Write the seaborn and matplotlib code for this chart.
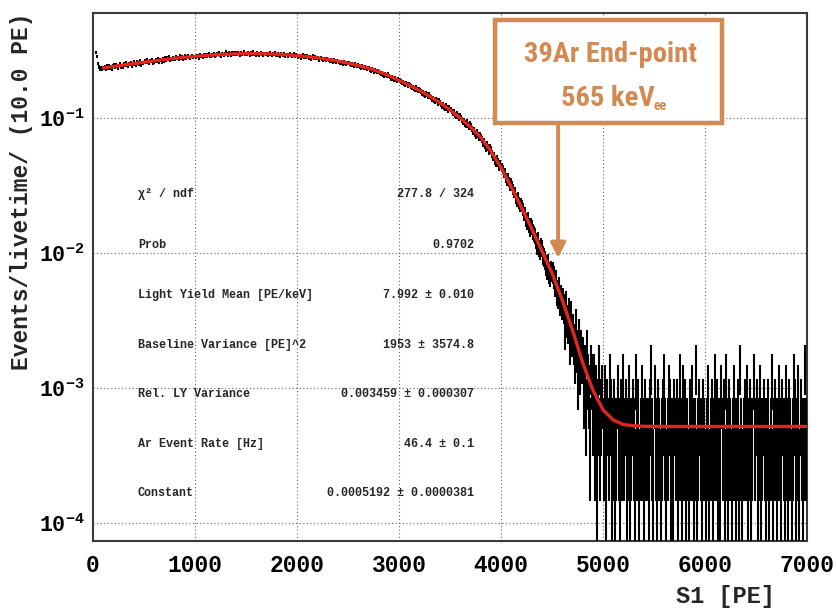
import numpy as np
import pandas as pd
import matplotlib
matplotlib.use("Agg")
import matplotlib.pyplot as plt
import seaborn as sns
from matplotlib import font_manager as fm
from matplotlib.patches import Rectangle
from matplotlib.ticker import FixedLocator, LogLocator, MultipleLocator, NullFormatter

# ---------------------------------------------------------------- data
bin_width = 10.0          # PE per bin
rate_per_count = 2.48e-4  # Hz per histogram entry (1 / livetime)

# entries per 10 PE bin, one list per 1000 PE
counts_0000 = [
    0, 0, 1240, 1150, 1020, 960, 930, 945, 925, 950,
    942, 968, 931, 975, 953, 990, 947, 962, 925, 981,
    995, 962, 1003, 971, 948, 989, 1012, 966, 984, 957,
    1021, 987, 1030, 996, 974, 1015, 1008, 1042, 983, 1011,
    1047, 1013, 1002, 1056, 1031, 1019, 1064, 998, 1036, 1025,
    1070, 1038, 1081, 1045, 1029, 1066, 1057, 1090, 1023, 1049,
    1061, 1095, 1072, 1108, 1054, 1086, 1079, 1043, 1100, 1068,
    1119, 1085, 1127, 1096, 1142, 1078, 1110, 1093, 1131, 1104,
    1106, 1150, 1118, 1135, 1097, 1162, 1121, 1140, 1109, 1128,
    1160, 1125, 1152, 1178, 1133, 1117, 1149, 1170, 1131, 1156,
]
counts_1000 = [
    1139, 1174, 1162, 1120, 1185, 1151, 1168, 1143, 1190, 1159,
    1191, 1158, 1180, 1204, 1166, 1149, 1187, 1175, 1213, 1162,
    1172, 1206, 1193, 1225, 1180, 1161, 1210, 1197, 1184, 1219,
    1251, 1214, 1186, 1233, 1207, 1179, 1222, 1195, 1240, 1203,
    1221, 1190, 1236, 1209, 1182, 1228, 1199, 1215, 1247, 1193,
    1189, 1230, 1211, 1177, 1224, 1203, 1242, 1196, 1218, 1185,
    1226, 1195, 1172, 1213, 1238, 1201, 1183, 1219, 1207, 1190,
    1214, 1178, 1205, 1229, 1190, 1167, 1211, 1196, 1232, 1184,
    1170, 1202, 1185, 1163, 1217, 1194, 1176, 1208, 1159, 1190,
    1195, 1160, 1188, 1214, 1171, 1149, 1182, 1203, 1166, 1179,
]
counts_2000 = [
    1138, 1170, 1149, 1127, 1163, 1185, 1142, 1158, 1131, 1166,
    1150, 1119, 1141, 1106, 1137, 1162, 1124, 1145, 1112, 1130,
    1124, 1090, 1113, 1131, 1098, 1079, 1116, 1102, 1087, 1109,
    1095, 1082, 1060, 1089, 1071, 1049, 1083, 1068, 1052, 1076,
    1061, 1043, 1028, 1055, 1037, 1016, 1049, 1031, 1010, 1038,
    1026, 1009, 992, 1018, 997, 980, 1011, 989, 972, 998,
    984, 966, 951, 977, 955, 938, 969, 946, 930, 957,
    941, 922, 903, 930, 908, 889, 918, 897, 880, 906,
    885, 866, 851, 872, 846, 833, 859, 840, 821, 848,
    826, 807, 793, 811, 783, 771, 797, 774, 760, 782,
]
counts_3000 = [
    764, 751, 733, 748, 727, 714, 737, 718, 702, 722,
    706, 690, 676, 688, 665, 654, 679, 659, 643, 662,
    645, 631, 617, 627, 604, 596, 618, 599, 584, 603,
    585, 571, 553, 566, 545, 534, 556, 540, 522, 541,
    526, 511, 494, 505, 486, 474, 495, 480, 463, 481,
    467, 450, 437, 446, 425, 416, 434, 419, 404, 421,
    408, 393, 379, 386, 368, 357, 375, 361, 346, 362,
    350, 336, 322, 329, 310, 300, 316, 303, 289, 302,
    291, 278, 264, 270, 252, 243, 257, 245, 231, 242,
    233, 220, 209, 213, 196, 188, 199, 189, 176, 185,
]
counts_4000 = [
    175, 167, 158, 160, 145, 139, 147, 136, 128, 133,
    127, 120, 114, 113, 103, 99, 104, 95, 90, 94,
    90, 85, 79, 80, 71, 68, 73, 65, 61, 65,
    63, 58, 56, 54, 50, 46, 51, 44, 42, 45,
    44, 39, 38, 36, 33, 31, 34, 29, 28, 30,
    29, 27, 24, 25, 21, 20, 22, 18, 19, 17,
    18, 16, 11, 17, 13, 12, 15, 9, 14, 10,
    11, 9, 7, 12, 8, 5, 10, 6, 8, 7,
    7, 4, 6, 3, 8, 5, 4, 2, 6, 5,
    3, 5, 2, 4, 1, 3, 6, 2, 3, 4,
]
counts_5000 = [
    2, 4, 1, 3, 0, 2, 5, 3, 1, 2,
    3, 1, 2, 0, 4, 2, 1, 3, 2, 5,
    2, 0, 3, 1, 2, 4, 1, 2, 0, 3,
    2, 1, 5, 2, 3, 1, 0, 2, 4, 2,
    1, 3, 2, 0, 2, 1, 3, 6, 2, 1,
    4, 2, 1, 3, 2, 0, 1, 2, 3, 5,
    2, 1, 0, 2, 4, 3, 1, 2, 1, 3,
    0, 2, 3, 1, 2, 5, 2, 1, 4, 2,
    3, 1, 2, 0, 1, 3, 2, 4, 2, 1,
    2, 6, 1, 2, 3, 0, 2, 1, 3, 2,
]
counts_6000 = [
    1, 2, 4, 1, 0, 2, 3, 1, 2, 5,
    2, 3, 1, 2, 1, 4, 0, 2, 3, 1,
    5, 2, 1, 3, 2, 0, 1, 2, 4, 2,
    1, 2, 3, 1, 6, 2, 1, 0, 2, 3,
    2, 4, 1, 2, 3, 1, 2, 0, 5, 2,
    3, 1, 2, 4, 1, 2, 0, 3, 2, 1,
    2, 3, 1, 0, 2, 5, 1, 2, 3, 2,
    1, 2, 4, 2, 1, 3, 0, 2, 1, 4,
    2, 1, 3, 2, 0, 1, 2, 5, 3, 1,
    2, 4, 1, 0, 3, 2, 1, 2, 6, 2,
]

# fitted model (beta spectrum + flat constant)
fit_s1 = [
    100, 200, 300, 400, 500, 600, 700, 800, 900, 1000,
    1100, 1200, 1300, 1400, 1500, 1600, 1700, 1800, 1900, 2000,
    2100, 2200, 2300, 2400, 2500, 2600, 2700, 2800, 2900, 3000,
    3100, 3200, 3300, 3400, 3500, 3600, 3700, 3800, 3900, 4000,
    4100, 4200, 4300, 4400, 4500, 4600, 4700, 4800, 4900, 5000,
    5100, 5200, 5300, 5400, 5500, 6000, 6500, 7000,
]
fit_rate = [
    0.235, 0.241, 0.247, 0.253, 0.259, 0.265, 0.271, 0.277, 0.282, 0.286,
    0.290, 0.294, 0.297, 0.299, 0.300, 0.300, 0.299, 0.297, 0.294, 0.290,
    0.285, 0.279, 0.272, 0.264, 0.255, 0.245, 0.234, 0.221, 0.206, 0.190,
    0.175, 0.160, 0.145, 0.130, 0.115, 0.100, 0.086, 0.072, 0.057, 0.043,
    0.031, 0.0218, 0.0152, 0.0104, 0.0071, 0.0045, 0.0027, 0.00155, 0.00097, 0.00069,
    0.00058, 0.000537, 0.000525, 0.000521, 0.0005192, 0.0005192, 0.0005192, 0.0005192,
]

stats_labels = [
    "χ² / ndf", "Prob", "Light Yield Mean [PE/keV]", "Baseline Variance [PE]^2",
    "Rel. LY Variance", "Ar Event Rate [Hz]", "Constant",
]
stats_values = [
    "277.8 / 324", "0.9702", "7.992 ± 0.010", "1953 ± 3574.8",
    "0.003459 ± 0.000307", "46.4 ± 0.1", "0.0005192 ± 0.0000381",
]

x_ticks = [0, 1000, 2000, 3000, 4000, 5000, 6000, 7000]
y_ticks = [1e-4, 1e-3, 1e-2, 1e-1]
y_tick_labels = [r"$\mathregular{10^{-4}}$", r"$\mathregular{10^{-3}}$",
                 r"$\mathregular{10^{-2}}$", r"$\mathregular{10^{-1}}$"]

endpoint_s1 = 4560        # 565 keVee at 7.992 PE/keV
endpoint_lines = ["39Ar End-point", "565 keV"]

# ---------------------------------------------------------------- style
sns.set_theme(style="white")
mono = "Liberation Mono"
plt.rcParams["font.family"] = [mono, "DejaVu Sans"]
plt.rcParams["font.weight"] = "bold"
plt.rcParams["mathtext.default"] = "regular"

ORANGE = "#D28A52"
RED = "#E2261C"
FRAME = "#3a3a3a"


def narrow_font():
    fl = fm.fontManager.ttflist
    names = {f.name for f in fl}
    for n in ["Roboto Condensed", "Liberation Sans Narrow", "Open Sans Condensed",
              "DejaVu Sans Condensed"]:
        if n in names:
            return dict(family=n, stretch="normal")
    if any(f.name == "DejaVu Sans" and str(f.stretch) == "condensed" for f in fl):
        return dict(family="DejaVu Sans", stretch="condensed")
    return dict(family="DejaVu Sans", stretch="normal")


W, H = 836, 608
fig = plt.figure(figsize=(W / 100, H / 100), dpi=100)
ax = fig.add_axes([93 / W, 1 - 541 / H, (807 - 93) / W, (541 - 12.7) / H])
ax.set_yscale("log")

# ---------------------------------------------------------------- histogram
counts = np.array(counts_0000 + counts_1000 + counts_2000 + counts_3000
                  + counts_4000 + counts_5000 + counts_6000, dtype=float)
centers = (np.arange(counts.size) + 0.5) * bin_width
hist = pd.DataFrame({"s1": centers, "n": counts})
hist = hist[hist.n > 0]
hist["rate"] = hist.n * rate_per_count
hist["err"] = np.sqrt(hist.n) * rate_per_count
lo = np.minimum(hist.err, hist.rate - 1e-7)
ax.errorbar(hist.s1, hist.rate, yerr=[lo, hist.err], xerr=bin_width / 2,
            fmt="none", ecolor="black", elinewidth=1.5, capsize=0, zorder=3)

fit = pd.DataFrame({"s1": fit_s1, "rate": fit_rate})
sns.lineplot(data=fit, x="s1", y="rate", color=RED, linewidth=2.4, ax=ax,
             zorder=4, sort=True)

# ---------------------------------------------------------------- axes
ax.set_xlim(0, 7000)
ax.set_ylim(7.36e-5, 0.603)
ax.xaxis.set_major_locator(FixedLocator(x_ticks))
ax.xaxis.set_minor_locator(MultipleLocator(200))
ax.set_xticklabels([str(t) for t in x_ticks])
ax.yaxis.set_major_locator(FixedLocator(y_ticks))
ax.set_yticklabels(y_tick_labels)
ax.yaxis.set_minor_locator(LogLocator(base=10, subs=np.arange(2, 10)))
ax.yaxis.set_minor_formatter(NullFormatter())
ax.set_xlabel("")
ax.set_ylabel("")

ax.tick_params(axis="both", which="both", direction="in", top=False, right=False,
               colors=FRAME, labelcolor="black", width=1.0)
ax.tick_params(axis="x", which="major", length=11, pad=9, labelsize=16.5)
ax.tick_params(axis="x", which="minor", length=6)
ax.tick_params(axis="y", which="major", length=14, pad=6, labelsize=15.5)
ax.tick_params(axis="y", which="minor", length=8)
for lab in ax.get_xticklabels() + ax.get_yticklabels():
    lab.set_fontweight("bold")

for s in ax.spines.values():
    s.set_color(FRAME)
    s.set_linewidth(1.5)

ax.grid(True, which="major", color="#666666", linestyle=(0, (1, 2.2)), linewidth=0.8)
ax.set_axisbelow(True)

fig.text(22 / W, 1 - 12 / H, "Events/livetime/ (10.0 PE)", rotation=90,
         ha="center", va="top", fontsize=16.5, fontweight="bold", family=[mono])
fig.text(775 / W, 1 - 597 / H, "S1 [PE]", ha="right", va="center",
         fontsize=17, fontweight="bold", family=[mono])

# ---------------------------------------------------------------- fit results
row_y = [194, 245, 295, 345, 394, 444, 493]
for yy, lab, val in zip(row_y, stats_labels, stats_values):
    fig.text(138 / W, 1 - yy / H, lab, ha="left", va="center",
             fontsize=8.5, fontweight="bold", family=[mono, "DejaVu Sans"])
    fig.text(474 / W, 1 - yy / H, val, ha="right", va="center",
             fontsize=8.5, fontweight="bold", family=[mono, "DejaVu Sans"])

# ---------------------------------------------------------------- end-point callout
nf = narrow_font()
box = Rectangle((495 / W, 1 - 123 / H), (722 - 495) / W, (123 - 20) / H,
                transform=fig.transFigure, facecolor="white", edgecolor=ORANGE,
                linewidth=3.2, zorder=10)
fig.add_artist(box)
fig.text(611 / W, 1 - 55 / H, endpoint_lines[0], ha="center", va="center",
         color=ORANGE, fontsize=20.5, fontweight="bold", family=nf["family"],
         fontstretch=nf["stretch"], zorder=11)
fig.text(561 / W, 1 - 98 / H, endpoint_lines[1], ha="left", va="center",
         color=ORANGE, fontsize=20.5, fontweight="bold", family=nf["family"],
         fontstretch=nf["stretch"], zorder=11)
fig.text(654 / W, 1 - 106 / H, "ee", ha="left", va="center", color=ORANGE,
         fontsize=10, fontweight="bold", family=nf["family"],
         fontstretch=nf["stretch"], zorder=11)

y_top = 10 ** (-1 - (123 - 118) / 135)
y_tip = 10 ** (-2 - (258 - 253) / 135)
ax.annotate("", xy=(endpoint_s1, y_tip), xytext=(endpoint_s1, y_top),
            arrowprops=dict(arrowstyle="-|>", color=ORANGE, lw=2.8,
                            mutation_scale=22, shrinkA=0, shrinkB=0),
            zorder=9, annotation_clip=False)

fig.savefig("out.png", dpi=100, facecolor="white")
